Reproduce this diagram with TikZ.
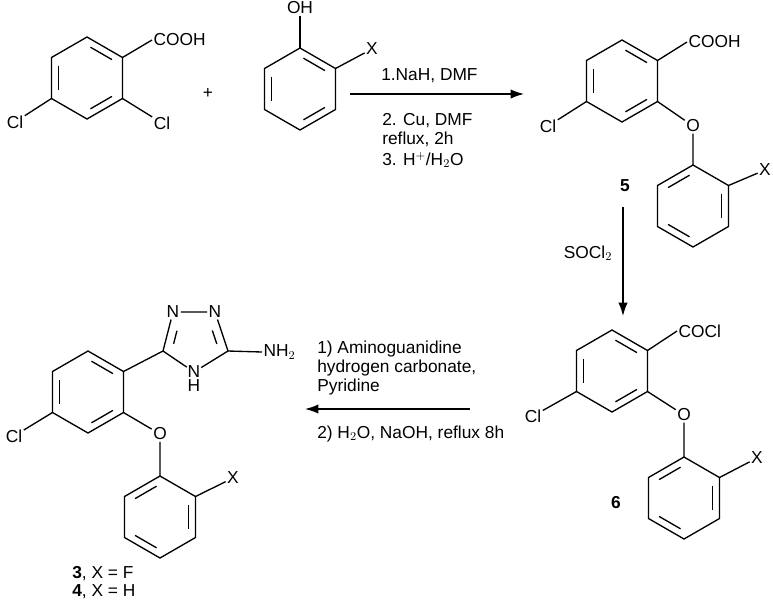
\documentclass[tikz,border=0pt]{standalone}
\usepackage{fontspec}
\setmainfont{Liberation Sans}
\usetikzlibrary{calc,positioning,arrows.meta}

\tikzset{
  atom/.style={inner sep=1pt,font=\fontsize{13}{13.5}\selectfont},
  cond/.style={align=left,inner sep=0pt,font=\fontsize{13}{14}\selectfont},
  bond/.style={line width=1pt},
  inner/.style={line width=1pt,shorten <=3pt,shorten >=3pt},
  rxn/.style={line width=1.1pt,-{Latex[length=10pt,width=7pt]}},
  % ring with corners -t -ur -lr -b -ll -ul
  pics/ringa/.style={code={
    \coordinate (-c) at (0,0);
    \coordinate (-t) at (0,-41);   \coordinate (-ur) at (35.5,-20.5);
    \coordinate (-lr) at (35.5,20.5); \coordinate (-b) at (0,41);
    \coordinate (-ll) at (-35.5,20.5); \coordinate (-ul) at (-35.5,-20.5);
    \draw[bond] (-t) -- (-ur) -- (-lr) -- (-b) -- (-ll) -- (-ul) -- cycle;
    \draw[inner] ($(-c)!.8!(-ul)$) -- ($(-c)!.8!(-ll)$);
    \draw[inner] ($(-c)!.8!(-t)$) -- ($(-c)!.8!(-ur)$);
    \draw[inner] ($(-c)!.8!(-lr)$) -- ($(-c)!.8!(-b)$);
  }},
  pics/ringb/.style={code={
    \coordinate (-c) at (0,0);
    \coordinate (-t) at (0,-41);   \coordinate (-ur) at (35.5,-20.5);
    \coordinate (-lr) at (35.5,20.5); \coordinate (-b) at (0,41);
    \coordinate (-ll) at (-35.5,20.5); \coordinate (-ul) at (-35.5,-20.5);
    \draw[bond] (-t) -- (-ur) -- (-lr) -- (-b) -- (-ll) -- (-ul) -- cycle;
    \draw[inner] ($(-c)!.8!(-t)$) -- ($(-c)!.8!(-ul)$);
    \draw[inner] ($(-c)!.8!(-ur)$) -- ($(-c)!.8!(-lr)$);
    \draw[inner] ($(-c)!.8!(-b)$) -- ($(-c)!.8!(-ll)$);
  }}
}

\begin{document}
\begin{tikzpicture}[x=0.75pt,y=-0.75pt]
  \useasboundingbox (0,0) rectangle (773,601);

  % 2,4-dichlorobenzoic acid
  \pic (ma) at (87,78) {ringa};
  \node[atom,anchor=west] (ma-cooh) at (152,40) {COOH};
  \node[atom] (ma-cl2) at (162,123) {Cl};
  \node[atom] (ma-cl4) at (15,122) {Cl};
  \draw[bond] (ma-ur) -- (ma-cooh.west);
  \draw[bond] (ma-lr) -- (ma-cl2);
  \draw[bond] (ma-ll) -- (ma-cl4);
  \node[atom] (plus) at (208,93) {+};

  % phenol
  \pic (ph) at (300,89) {ringa};
  \node[atom] (ph-oh) at (300,8) {OH};
  \node[atom] (ph-x) at (372,49) {X};
  \draw[bond] (ph-t) -- (ph-oh);
  \draw[bond] (ph-ur) -- (ph-x);

  % step 1
  \coordinate (r1s) at (350,94);
  \coordinate (r1e) at (524,94);
  \draw[rxn] (r1s) -- (r1e);
  \node[cond,anchor=west] (c1a) at (381,76) {1.NaH, DMF};
  \node[cond,anchor=north west] (c1b) at (382,113) {2. Cu, DMF\\reflux, 2h};
  \node[cond,anchor=west] (c1c) at (382,160) {3. H$^{+}$/H$_2$O};

  % compound 5
  \pic (mb) at (622,81) {ringa};
  \pic (pb) at (693,206) {ringb};
  \node[atom,anchor=west] (mb-cooh) at (687,42) {COOH};
  \node[atom] (mb-cl) at (548,126) {Cl};
  \node[atom] (mb-o) at (693,126) {O};
  \node[atom] (pb-x) at (765,170) {X};
  \draw[bond] (mb-ur) -- (mb-cooh.west);
  \draw[bond] (mb-ll) -- (mb-cl);
  \draw[bond] (mb-lr) -- (mb-o) -- (pb-t);
  \draw[bond] (pb-ur) -- (pb-x);
  \node[atom,font=\bfseries\fontsize{13}{13.5}\selectfont] (lab5) at (625,186) {5};

  % step 2
  \coordinate (r2s) at (623,207);
  \coordinate (r2e) at (623,316);
  \draw[rxn] (r2s) -- (r2e);
  \node[cond] (c2) at (588,253) {SOCl$_2$};

  % compound 6
  \pic (mc) at (612,371) {ringa};
  \pic (pc) at (684,498) {ringb};
  \node[atom,anchor=west] (mc-cocl) at (677,331) {COCl};
  \node[atom] (mc-cl) at (533,416) {Cl};
  \node[atom] (mc-o) at (684,415) {O};
  \node[atom] (pc-x) at (757,458) {X};
  \draw[bond] (mc-ur) -- (mc-cocl.west);
  \draw[bond] (mc-ll) -- (mc-cl);
  \draw[bond] (mc-lr) -- (mc-o) -- (pc-t);
  \draw[bond] (pc-ur) -- (pc-x);
  \node[atom,font=\bfseries\fontsize{13}{13.5}\selectfont] (lab6) at (616,503) {6};

  % step 3
  \coordinate (r3s) at (470,409);
  \coordinate (r3e) at (305,409);
  \draw[rxn] (r3s) -- (r3e);
  \node[cond,anchor=north west] (c3a) at (317,341) {1) Aminoguanidine\\hydrogen carbonate,\\Pyridine};
  \node[cond,anchor=west] (c3b) at (317,434) {2) H$_2$O, NaOH, reflux 8h};

  % compounds 3 and 4
  \pic (md) at (88,392) {ringa};
  \pic (pd) at (160,517) {ringb};
  \node[atom] (md-cl) at (14,436) {Cl};
  \node[atom] (md-o) at (160,434) {O};
  \node[atom] (pd-x) at (233,478) {X};
  \draw[bond] (md-ll) -- (md-cl);
  \draw[bond] (md-lr) -- (md-o) -- (pd-t);
  \draw[bond] (pd-ur) -- (pd-x);
  % triazole
  \coordinate (tz-cen) at (195,340);
  \coordinate (tz-c5) at (163,351);
  \coordinate (tz-p1) at (173,312);
  \coordinate (tz-p2) at (215,312);
  \coordinate (tz-c3) at (228,351);
  \node[atom] (tz-n1) at (tz-p1) {N};
  \node[atom] (tz-n2) at (tz-p2) {N};
  \node[atom,inner sep=0.5pt] (tz-nh) at (194,372) {N};
  \node[atom,inner sep=0pt,below=0pt of tz-nh] (tz-h) {H};
  \node[atom,anchor=west] (tz-nh2) at (262,352) {NH$_2$};
  \draw[bond] (md-ur) -- (tz-c5) -- (tz-n1);
  \draw[bond] (tz-n1) -- (tz-n2) -- (tz-c3);
  \draw[bond] (tz-c5) -- (tz-nh) -- (tz-c3) -- (tz-nh2.west);
  \draw[inner,shorten >=8pt] ($(tz-cen)!.7!(tz-c5)$) -- ($(tz-cen)!.7!(tz-p1)$);
  \draw[inner,shorten >=8pt] ($(tz-cen)!.7!(tz-c3)$) -- ($(tz-cen)!.7!(tz-p2)$);
  \node[atom,anchor=north west,align=left,inner sep=0pt,font=\fontsize{13}{13.5}\selectfont] (lab34) at (72,566) {\textbf{3}, X = F\\\textbf{4}, X = H};
\end{tikzpicture}
\end{document}
